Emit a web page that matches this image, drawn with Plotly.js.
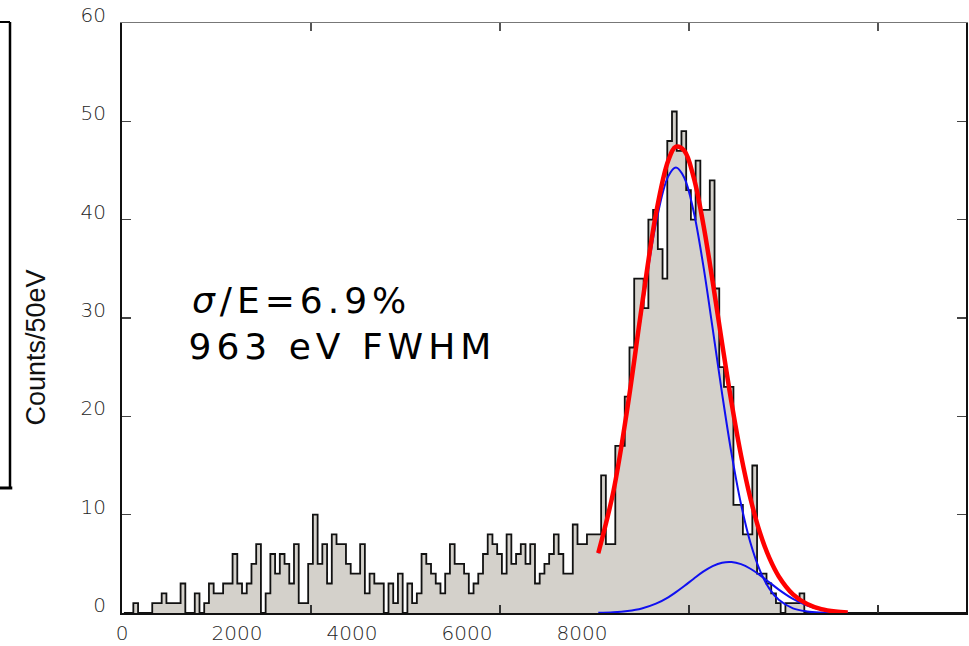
<!DOCTYPE html>
<html>
<head>
<meta charset="utf-8">
<script src="https://cdn.plot.ly/plotly-3.0.1.min.js"></script>
<style>
  html, body { margin: 0; padding: 0; background: #fff; }
  #chart { width: 969px; height: 646px; }
  g.annotation[data-index="0"] text, g.annotation[data-index="1"] text { letter-spacing: 5px; }
</style>
</head>
<body>
<div id="chart"></div>
<script>
// Fe-55 pulse-height spectrum, 50 eV bins
const binStart = 20;   // eV, lower edge of the first bin
const binWidth = 50;   // eV
const counts = [
  0,0,1,0,0,0,1,1,2,1,
  1,1,3,0,0,2,0,1,3,2,
  2,3,3,6,3,2,3,5,7,0,
  2,6,4,6,5,3,7,1,1,5,
  10,5,7,3,8,7,7,5,4,4,
  7,2,4,3,3,0,3,1,4,0,
  3,1,2,6,5,4,3,2,4,7,
  5,5,4,2,3,4,6,8,7,6,
  4,8,5,6,7,5,7,3,4,5,
  6,8,6,4,4,9,7,7,8,8,
  8,14,7,7,17,17,22,27,34,34,
  31,40,41,37,34,48,51,47,49,43,
  40,46,41,41,44,33,25,23,23,11,
  11,8,8,15,4,4,3,2,1,0,
  1,1,1,2,0,0,0,0,0,0,
  0,0,0,0,0,0,0,0,0,0,
  0,0,0,0,0,0,0,0,0,0,
  0,0,0,0,0,0,0,0,0
];

// Fit: Mn K-alpha + K-beta Gaussians, sampled in eV
const fitEnergy = [5040,5200,5350,5500,5650,5780,5862,5950,6050,6150,6250,6350,6450,6550,6650,6750,6850,6950,7100,7250,7400,7550,7680];
const fitKalpha = [6.07,12.30,20.77,30.68,39.63,44.40,45.30,44.27,40.78,35.40,28.95,22.31,16.20,11.08,7.14,4.34,2.48,1.34,0.47,0.15,0.04,0.01,0.00];
const fitKbeta  = [0.02,0.07,0.20,0.46,0.95,1.60,2.12,2.74,3.49,4.20,4.77,5.12,5.19,4.97,4.50,3.85,3.12,2.38,1.43,0.76,0.35,0.14,0.06];
const fitTotal  = [6.09,12.37,20.97,31.14,40.58,46.00,47.42,47.01,44.27,39.60,33.72,27.43,21.39,16.05,11.64,8.19,5.60,3.72,1.90,0.91,0.39,0.15,0.06];

// Axis ticks and labels
const tickEnergy = [2000, 4000, 6000, 8000];
const labelValues = [0, 2000, 4000, 6000, 8000];
const labelText = ['0', '2000', '4000', '6000', '8000'];
const yTicks = [0, 10, 20, 30, 40, 50, 60];
const yTitle = 'Counts/50eV';
const noteLine1 = '<i>σ</i>/E=6.9%';
const noteLine2 = '963 eV FWHM';

// step outline: left edge of each bin, plus the closing edge
const edges = counts.map((_, k) => binStart + k * binWidth);
edges.push(binStart + counts.length * binWidth);
const stepY = counts.concat([counts[counts.length - 1]]);

const tickFont = { family: 'DejaVu Sans', size: 20, color: '#262626', weight: 200 };

const traces = [
  {
    type: 'scatter', mode: 'lines', x: edges, y: stepY,
    line: { shape: 'hv', color: '#111', width: 1.8 },
    fill: 'tozeroy', fillcolor: '#d4d1cb', hoverinfo: 'skip'
  },
  {
    type: 'scatter', mode: 'lines', x: fitEnergy, y: fitKbeta,
    line: { shape: 'spline', color: '#1010f0', width: 2 }, hoverinfo: 'skip'
  },
  {
    type: 'scatter', mode: 'lines', x: fitEnergy, y: fitKalpha,
    line: { shape: 'spline', color: '#1010f0', width: 2 }, hoverinfo: 'skip'
  },
  {
    type: 'scatter', mode: 'lines', x: fitEnergy, y: fitTotal,
    line: { shape: 'spline', color: '#ff0000', width: 4.5 }, hoverinfo: 'skip'
  },
  { type: 'scatter', mode: 'lines', x: [], y: [], xaxis: 'x2', hoverinfo: 'skip' },
  { type: 'scatter', mode: 'lines', x: [], y: [], xaxis: 'x3', hoverinfo: 'skip' }
];

const eMax = 8931;
const layout = {
  width: 969, height: 646,
  margin: { l: 122, r: 3, t: 23, b: 33 },
  paper_bgcolor: '#fff', plot_bgcolor: '#fff',
  showlegend: false,
  xaxis: {
    range: [0, eMax], tickvals: tickEnergy, ticks: 'inside', ticklen: 8, tickwidth: 1.2,
    tickcolor: '#333', showticklabels: false, showline: true, linecolor: '#111', linewidth: 1.5,
    showgrid: false, zeroline: false
  },
  xaxis2: {
    overlaying: 'x', side: 'top', anchor: 'y',
    range: [0, eMax], tickvals: tickEnergy, ticks: 'inside', ticklen: 8, tickwidth: 1.2,
    tickcolor: '#555', showticklabels: false, showline: true, linecolor: '#777', linewidth: 1.5,
    showgrid: false, zeroline: false
  },
  xaxis3: {
    overlaying: 'x', side: 'bottom', anchor: 'y',
    range: [0, 14680], tickvals: labelValues, ticktext: labelText, ticks: '',
    showline: false, showgrid: false, zeroline: false,
    tickfont: tickFont, ticklabelstandoff: 6
  },
  yaxis: {
    range: [0, 60], tickvals: yTicks, ticks: 'inside', ticklen: 9, tickwidth: 1.2,
    tickcolor: '#444', showline: true, linecolor: '#111', linewidth: 2, mirror: 'ticks',
    showgrid: false, zeroline: false, tickfont: tickFont,
    ticklabelshift: -8, ticklabelstandoff: 10
  },
  annotations: [
    {
      xref: 'paper', yref: 'paper', x: 0.1042, y: 0.5305, xanchor: 'left', yanchor: 'middle',
      text: noteLine1, showarrow: false,
      font: { family: 'DejaVu Sans', size: 36, color: '#000' }
    },
    {
      xref: 'paper', yref: 'paper', x: 0.1089, y: 0.4525, xanchor: 'left', yanchor: 'middle',
      text: noteLine2, showarrow: false,
      font: { family: 'DejaVu Sans', size: 36, color: '#000' }
    },
    {
      xref: 'paper', yref: 'paper', x: -0.103, y: 0.45, xanchor: 'center', yanchor: 'middle',
      text: yTitle, textangle: -90, showarrow: false,
      font: { family: 'Liberation Sans', size: 27, color: '#111' }
    }
  ],
  shapes: [
    // edge of the neighbouring panel frame
    { type: 'line', xref: 'paper', yref: 'paper', x0: -0.1327, x1: -0.1327, y0: 1.0017, y1: 0.2119,
      line: { color: '#000', width: 2.5 } },
    { type: 'line', xref: 'paper', yref: 'paper', x0: -0.1446, x1: -0.1327, y0: 1.0017, y1: 1.0017,
      line: { color: '#000', width: 2 } },
    { type: 'line', xref: 'paper', yref: 'paper', x0: -0.1446, x1: -0.1300, y0: 0.2119, y1: 0.2119,
      line: { color: '#000', width: 3 } }
  ]
};

Plotly.newPlot('chart', traces, layout, { staticPlot: true, displayModeBar: false });
</script>
</body>
</html>
